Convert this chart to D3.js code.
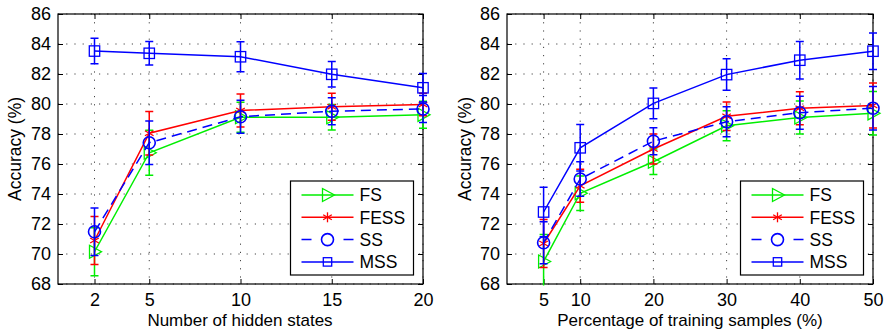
<!DOCTYPE html>
<html>
<head>
<meta charset="utf-8">
<script src="https://cdn.jsdelivr.net/npm/d3@7"></script>
<style>
body { margin: 0; background: #fff; }
svg { font-family: "Liberation Sans", Arial, sans-serif; }
</style>
</head>
<body>
<svg width="886" height="334"></svg>
<script>
// left chart: number of hidden states
var statesX = [2, 5, 10, 15, 20];
var statesFS = [70.15, 76.75, 79.12, 79.12, 79.28];
var statesFSErr = [1.6, 1.5, 1.0, 0.85, 0.9];
var statesFESS = [70.9, 78.05, 79.57, 79.82, 79.97];
var statesFESSErr = [1.6, 1.45, 1.1, 0.9, 0.75];
var statesSS = [71.48, 77.42, 79.15, 79.52, 79.67];
var statesSSErr = [1.58, 1.45, 1.1, 0.9, 0.9];
var statesMSS = [83.53, 83.38, 83.15, 81.98, 81.08];
var statesMSSErr = [0.85, 0.78, 1.0, 0.85, 0.95];

// right chart: percentage of training samples
var pctX = [5, 10, 20, 30, 40, 50];
var pctFS = [69.5, 74.05, 76.15, 78.55, 79.1, 79.38];
var pctFSErr = [1.8, 1.15, 0.85, 1.0, 1.1, 1.45];
var pctFESS = [70.7, 74.55, 77.0, 79.18, 79.72, 79.9];
var pctFESSErr = [1.6, 1.1, 1.0, 0.95, 1.1, 1.5];
var pctSS = [70.75, 75.0, 77.52, 78.82, 79.42, 79.72];
var pctSSErr = [1.4, 1.15, 0.9, 1.0, 1.1, 1.45];
var pctMSS = [72.8, 77.08, 80.04, 81.96, 82.92, 83.52];
var pctMSSErr = [1.65, 1.55, 1.02, 1.05, 1.25, 1.22];

var yTicks = [68, 70, 72, 74, 76, 78, 80, 82, 84, 86];
var seriesNames = ["FS", "FESS", "SS", "MSS"];
var seriesColors = ["#00ee00", "#ff0000", "#0000ff", "#0000ff"];

var svg = d3.select("svg");

function marker(g, name, color, small) {
  if (name === "FS") {
    g.append("path").attr("d", "M-5,-6.5L7,0L-5,6.5Z")
      .attr("fill", "none").attr("stroke", color).attr("stroke-width", 1.3);
  } else if (name === "FESS") {
    [0, 60, 120].forEach(function(a) {
      g.append("line").attr("x1", 0).attr("y1", -5).attr("x2", 0).attr("y2", 5)
        .attr("transform", "rotate(" + a + ")")
        .attr("stroke", color).attr("stroke-width", 1.3);
    });
  } else if (name === "SS") {
    g.append("circle").attr("r", 6)
      .attr("fill", "none").attr("stroke", color).attr("stroke-width", 1.6);
  } else {
    var h = small ? 4.2 : 5.2;
    g.append("rect").attr("x", -h).attr("y", -h).attr("width", 2 * h).attr("height", 2 * h)
      .attr("fill", "none").attr("stroke", color).attr("stroke-width", 1.3);
  }
}

function drawChart(opts) {
  var x = d3.scaleLinear().domain([0, opts.xMax]).range([opts.left, opts.right]);
  var y = d3.scaleLinear().domain([68, 86]).range([284, 14]);
  var g = svg.append("g");

  // grid
  g.selectAll(".gx").data(opts.xTicks).enter().append("line")
    .attr("x1", function(d) { return x(d); }).attr("x2", function(d) { return x(d); })
    .attr("y1", 14).attr("y2", 284)
    .attr("stroke", "#444").attr("stroke-width", 1).attr("stroke-dasharray", "1.2,7");
  g.selectAll(".gy").data(yTicks).enter().append("line")
    .attr("x1", opts.left).attr("x2", opts.right)
    .attr("y1", function(d) { return y(d); }).attr("y2", function(d) { return y(d); })
    .attr("stroke", "#444").attr("stroke-width", 1).attr("stroke-dasharray", "1.2,7");

  // axes with inward ticks
  g.append("g").attr("transform", "translate(0,284)")
    .call(d3.axisBottom(x).tickValues(opts.xTicks).tickSizeInner(-5).tickSizeOuter(0).tickPadding(9));
  g.append("g").attr("transform", "translate(" + opts.left + ",0)")
    .call(d3.axisLeft(y).tickValues(yTicks).tickSizeInner(-5).tickSizeOuter(0).tickPadding(7));
  g.append("g").attr("transform", "translate(0,14)")
    .call(d3.axisTop(x).tickValues(opts.xTicks).tickSizeInner(-5).tickSizeOuter(0).tickFormat(""));
  g.append("g").attr("transform", "translate(" + opts.right + ",0)")
    .call(d3.axisRight(y).tickValues(yTicks).tickSizeInner(-5).tickSizeOuter(0).tickFormat(""));
  g.selectAll(".domain").remove();
  g.selectAll(".tick text").attr("font-size", 18).attr("fill", "#000");
  g.selectAll(".tick line").attr("stroke", "#000");
  g.append("rect").attr("x", opts.left).attr("y", 14)
    .attr("width", opts.right - opts.left).attr("height", 270)
    .attr("fill", "none").attr("stroke", "#000").attr("stroke-width", 1.2);

  // series
  opts.series.forEach(function(s, i) {
    var color = seriesColors[i];
    var pts = opts.xs.map(function(xv, j) { return { x: xv, y: s.v[j], e: s.e[j] }; });
    var sg = g.append("g");
    sg.selectAll(".eb").data(pts).enter().append("path")
      .attr("d", function(d) {
        var cx = x(d.x), y1 = y(d.y + d.e), y2 = y(Math.max(d.y - d.e, 67.9));
        var p = "M" + cx + "," + y1 + "V" + y2 + "M" + (cx - 4) + "," + y1 + "H" + (cx + 4);
        if (d.y - d.e >= 68) p += "M" + (cx - 4) + "," + y2 + "H" + (cx + 4);
        return p;
      })
      .attr("stroke", color).attr("stroke-width", 1.5).attr("fill", "none");
    sg.append("path").datum(pts)
      .attr("d", d3.line().x(function(d) { return x(d.x); }).y(function(d) { return y(d.y); }))
      .attr("fill", "none").attr("stroke", color).attr("stroke-width", 1.5)
      .attr("stroke-dasharray", seriesNames[i] === "SS" ? "10,6" : null);
    pts.forEach(function(d) {
      marker(sg.append("g").attr("transform", "translate(" + x(d.x) + "," + y(d.y) + ")"), seriesNames[i], color, false);
    });
  });

  // legend
  var lx = opts.legendX, ly = 181;
  var lg = g.append("g");
  lg.append("rect").attr("x", lx).attr("y", ly).attr("width", 123).attr("height", 94)
    .attr("fill", "#fff").attr("stroke", "#000").attr("stroke-width", 1.2);
  seriesNames.forEach(function(n, i) {
    var yy = ly + 14 + i * 22.3;
    lg.append("line").attr("x1", lx + 11).attr("x2", lx + 63).attr("y1", yy).attr("y2", yy)
      .attr("stroke", seriesColors[i]).attr("stroke-width", 1.5)
      .attr("stroke-dasharray", n === "SS" ? "10,32" : null);
    marker(lg.append("g").attr("transform", "translate(" + (lx + 37) + "," + yy + ")"), n, seriesColors[i], true);
    lg.append("text").attr("x", lx + 69).attr("y", yy).attr("dy", "0.36em")
      .attr("font-size", 17.5).text(n);
  });

  // labels
  g.append("text").attr("x", opts.labelMid).attr("y", 326)
    .attr("text-anchor", "middle").attr("font-size", 17).text(opts.xLabel);
  g.append("text").attr("transform", "translate(" + opts.yLabelX + ",149) rotate(-90)")
    .attr("text-anchor", "middle").attr("font-size", 17.5).text("Accuracy (%)");
}

drawChart({
  left: 58, right: 423, xMax: 20, xs: statesX, xTicks: statesX,
  series: [
    { v: statesFS, e: statesFSErr }, { v: statesFESS, e: statesFESSErr },
    { v: statesSS, e: statesSSErr }, { v: statesMSS, e: statesMSSErr }
  ],
  legendX: 290.5, xLabel: "Number of hidden states", yLabelX: 21, labelMid: 240
});
drawChart({
  left: 507, right: 873, xMax: 50, xs: pctX, xTicks: pctX,
  series: [
    { v: pctFS, e: pctFSErr }, { v: pctFESS, e: pctFESSErr },
    { v: pctSS, e: pctSSErr }, { v: pctMSS, e: pctMSSErr }
  ],
  legendX: 740.5, xLabel: "Percentage of training samples (%)", yLabelX: 471, labelMid: 690
});
</script>
</body>
</html>
